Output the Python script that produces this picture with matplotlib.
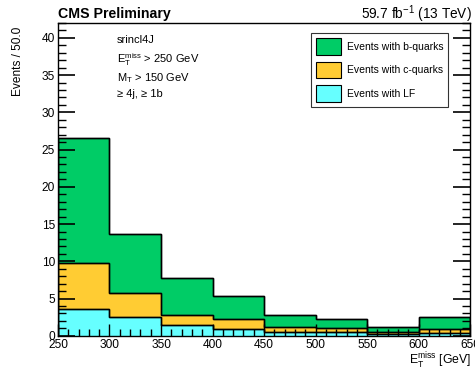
import matplotlib
matplotlib.use("Agg")
import matplotlib.pyplot as plt
import numpy as np
from matplotlib.ticker import MultipleLocator
from matplotlib.patches import Patch

plt.rcParams['font.family'] = ['Liberation Sans', 'DejaVu Sans']
plt.rcParams['mathtext.fontset'] = 'custom'
plt.rcParams['mathtext.rm'] = 'Liberation Sans'
plt.rcParams['mathtext.it'] = 'Liberation Sans:italic'

# Binning in MET [GeV]
bin_edges = [250, 300, 350, 400, 450, 500, 550, 600, 650]

# Per-bin yields of each component
lf_events = [3.55, 2.52, 1.48, 0.88, 0.45, 0.45, 0.25, 0.42]
c_events = [6.19, 3.27, 1.35, 1.39, 0.68, 0.55, 0.25, 0.43]
b_events = [16.86, 7.86, 4.94, 3.01, 1.70, 1.25, 0.63, 1.70]

labels = ["Events with b-quarks", "Events with c-quarks", "Events with LF"]
colors = ["#00cc66", "#ffcc33", "#66ffff"]

# Stacked totals, drawn from the top down like a THStack
lf_top = np.array(lf_events)
c_top = lf_top + np.array(c_events)
b_top = c_top + np.array(b_events)

fig = plt.figure(figsize=(4.75, 3.71), dpi=100)
ax = fig.add_axes([0.122, 0.095, 0.868, 0.843])

for top, col in zip([b_top, c_top, lf_top], colors):
    ax.stairs(top, bin_edges, fill=True, facecolor=col, edgecolor="black", linewidth=1.0)
    ax.stairs(top, bin_edges, fill=False, edgecolor="black", linewidth=1.0)

ax.set_xlim(250, 650)
ax.set_ylim(0, 42)

ax.xaxis.set_major_locator(MultipleLocator(50))
ax.xaxis.set_minor_locator(MultipleLocator(10))
ax.yaxis.set_major_locator(MultipleLocator(5))
ax.yaxis.set_minor_locator(MultipleLocator(1))
ax.tick_params(which="both", direction="in", right=True, top=False, labelsize=8.6, pad=2)
ax.tick_params(which="major", axis="y", length=12, width=1.2)
ax.tick_params(which="minor", axis="y", length=6, width=1.0)
ax.tick_params(which="major", axis="x", length=9, width=1.0)
ax.tick_params(which="minor", axis="x", length=5, width=1.0)
for s in ax.spines.values():
    s.set_linewidth(1.0)
    s.set_zorder(5)
ax.set_axisbelow(False)

# Axis titles
fig.text(18 / 475, 1 - 27 / 371, "Events / 50.0", rotation=90, ha="center", va="top", fontsize=8.6)
fig.text(471 / 475, 1 - 365 / 371, r"E$_\mathrm{T}^\mathrm{miss}$ [GeV]", ha="right", va="baseline", fontsize=8.8)

# Header
fig.text(58 / 475, 1 - 14 / 371, "CMS Preliminary", ha="left", va="center", fontsize=10.2, fontweight="bold")
fig.text(472 / 475, 1 - 14 / 371, r"59.7 fb$^{-1}$ (13 TeV)", ha="right", va="center", fontsize=9.8)

# Selection text
sel_lines = ["srincl4J", r"E$_\mathrm{T}^\mathrm{miss}$ > 250 GeV", r"M$_\mathrm{T}$ > 150 GeV", "≥ 4j, ≥ 1b"]
sel_y = [40, 60, 78, 94]
for txt, yy in zip(sel_lines, sel_y):
    fig.text(117 / 475, 1 - yy / 371, txt, ha="left", va="center", fontsize=8.0)

handles = [Patch(facecolor=c, edgecolor="black", linewidth=0.8) for c in colors]
leg = ax.legend(handles, labels, loc="upper left", bbox_to_anchor=((311 - 58) / 412, 1 - (33 - 23) / 313),
                fontsize=7.5, frameon=True, fancybox=False, edgecolor="black",
                handlelength=2.4, handleheight=2.05, borderpad=0.5, labelspacing=0.68, handletextpad=0.5,
                borderaxespad=0)
leg.get_frame().set_linewidth(0.8)

fig.savefig("out.png", dpi=100)
